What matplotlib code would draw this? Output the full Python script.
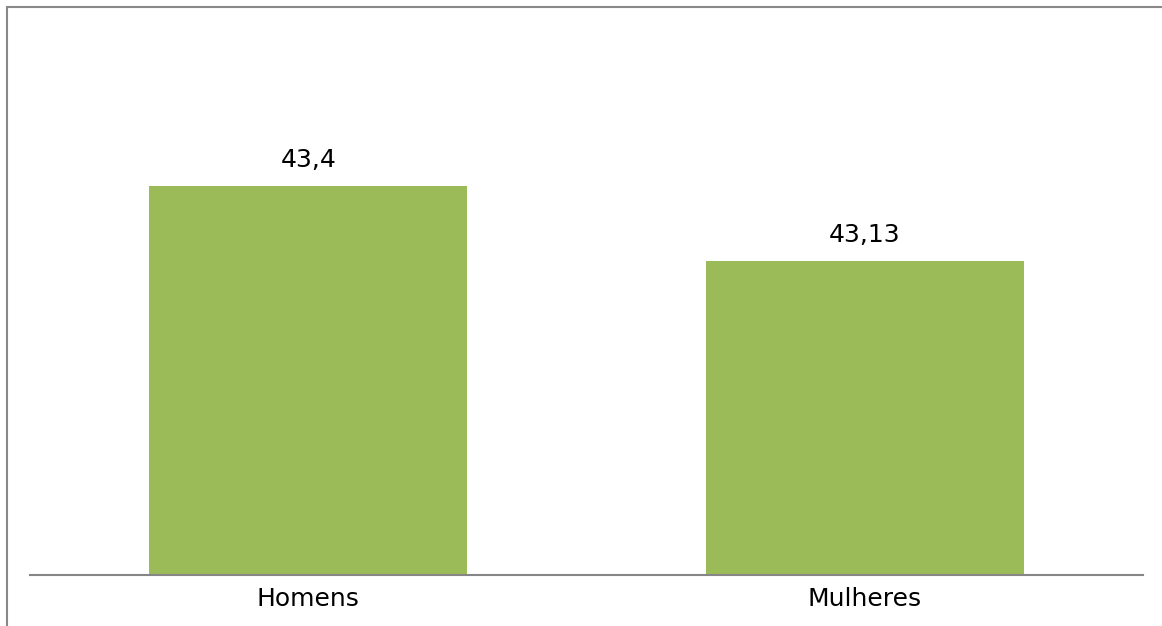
import matplotlib.pyplot as plt
from matplotlib.patches import Rectangle

# Dados
categorias = ['Homens', 'Mulheres']
valores = [43.4, 43.13]
rotulos = ['43,4', '43,13']

fig = plt.figure(figsize=(11.62, 6.26), dpi=100)
W, H = 1162, 626

# Área do gráfico: eixo x em y=575 px, topo em y=19 px
ax = fig.add_axes([30 / W, (H - 575) / H, (1143 - 30) / W, (575 - 19) / H])

x = range(len(categorias))
ax.bar(x, valores, width=0.571, color='#9BBB59', bottom=0)
ax.set_xlim(-0.5, 1.5)
ax.set_ylim(42, 44)

for xi, v, r in zip(x, valores, rotulos):
    ax.annotate(r, (xi, v), xytext=(0, 13.7), textcoords='offset points',
                ha='center', va='baseline', fontsize=18, color='#000000')

ax.set_xticks(list(x))
ax.set_xticklabels(categorias, fontsize=18)
ax.tick_params(axis='x', length=0, pad=9)
ax.set_yticks([])

for lado in ['top', 'right', 'left']:
    ax.spines[lado].set_visible(False)
ax.spines['bottom'].set_color('#868686')
ax.spines['bottom'].set_linewidth(1.5)

# Moldura externa (só as bordas superior e esquerda aparecem)
moldura = Rectangle((6.5 / W, -0.1), 1.2, (H - 6.5) / H + 0.1,
                    transform=fig.transFigure, fill=False,
                    edgecolor='#898989', linewidth=1.5)
fig.add_artist(moldura)

fig.savefig('out.png', dpi=100)
